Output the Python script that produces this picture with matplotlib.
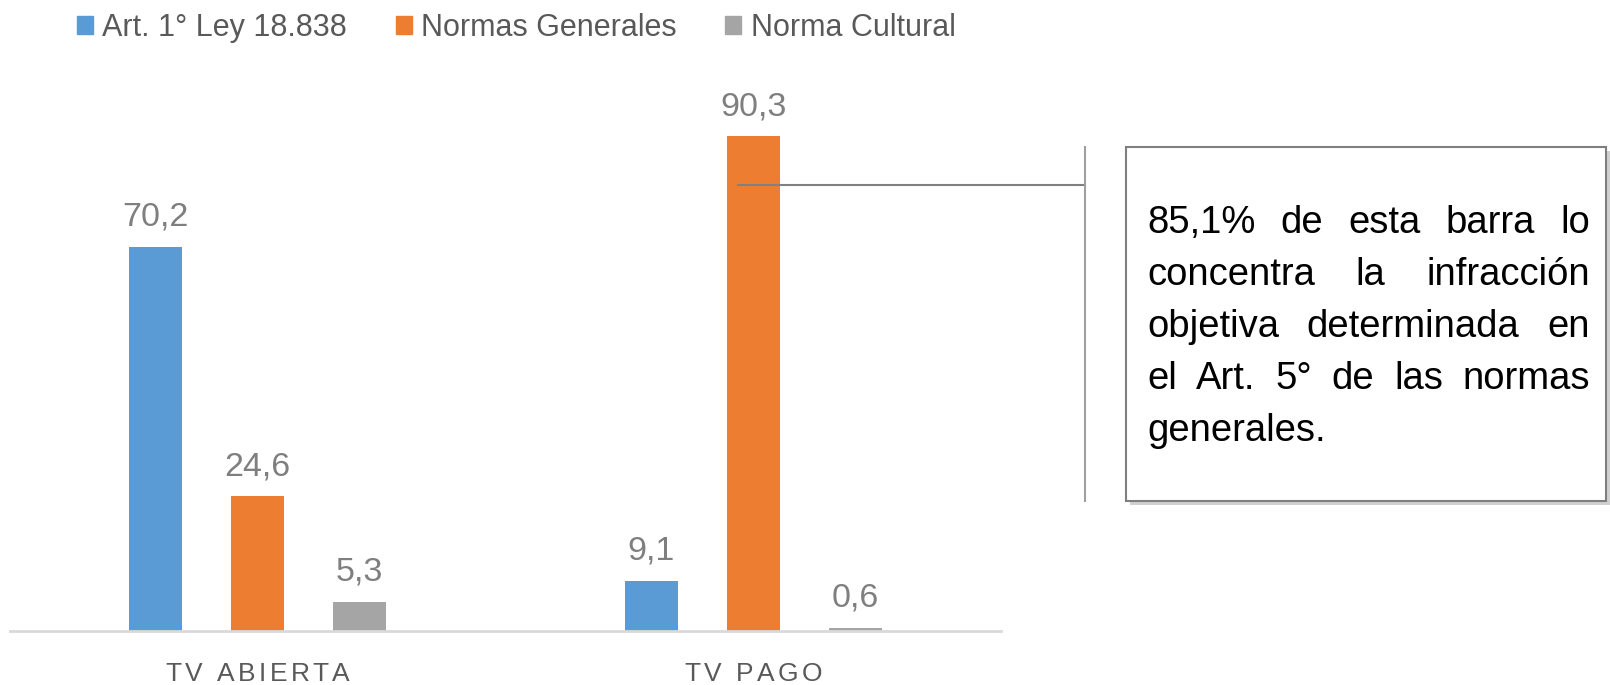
import matplotlib
matplotlib.use('Agg')
import matplotlib.pyplot as plt
from matplotlib.patches import Patch, Rectangle
from matplotlib.lines import Line2D
from matplotlib.transforms import IdentityTransform
import numpy as np

categories = ['TV ABIERTA', 'TV PAGO']
series = ['Art. 1° Ley 18.838', 'Normas Generales', 'Norma Cultural']
art1 = [70.2, 9.1]
normas_generales = [24.6, 90.3]
norma_cultural = [5.3, 0.6]
colors = ['#5B9BD5', '#ED7D31', '#A5A5A5']
note_lines = ['85,1% de esta barra lo',
              'concentra la infracción',
              'objetiva determinada en',
              'el Art. 5° de las normas',
              'generales.']
note_y = 81.5  # height on the TV PAGO orange bar where the callout points

FONT = ['Liberation Sans', 'DejaVu Sans']
W, H = 1610, 685

fig = plt.figure(figsize=(W / 100, H / 100), dpi=100)
ax = fig.add_axes([10 / W, 1 - 631 / H, 991 / W, 547.7 / H])

x = np.arange(len(categories))
width = 0.107
offset = 0.206
values = [art1, normas_generales, norma_cultural]
for i, (name, vals) in enumerate(zip(series, values)):
    pos = x + (i - 1) * offset
    bars = ax.bar(pos, vals, width, color=colors[i], label=name)
    for b, v in zip(bars, vals):
        ax.text(b.get_x() + b.get_width() / 2, v + 2.6,
                ('%.1f' % v).replace('.', ','), ha='center', va='bottom',
                fontsize=24.5, color='#7F7F7F', family=FONT)

ax.set_xlim(-0.5, 1.5)
ax.set_ylim(0, 100)
ax.set_yticks([])
ax.set_xticks([])
for s in ['top', 'right', 'left']:
    ax.spines[s].set_visible(False)
ax.spines['bottom'].set_color('#D9D9D9')
ax.spines['bottom'].set_linewidth(2)

fig.canvas.draw()
renderer = fig.canvas.get_renderer()


def text_w(s, **kw):
    t = fig.text(0, 0, s, transform=IdentityTransform(), **kw)
    w = t.get_window_extent(renderer).width
    t.remove()
    return w


def spaced(cx, y, s, gap, **kw):
    # letter-spaced text, centred on cx (pixels)
    ws = [text_w(c, **kw) for c in s]
    total = sum(ws) + gap * (len(s) - 1)
    xx = cx - total / 2
    for c, w in zip(s, ws):
        fig.text(xx, y, c, transform=IdentityTransform(), va='baseline', **kw)
        xx += w + gap


# category labels
for xi, cat in zip(x, categories):
    cx = ax.transData.transform((xi, 0))[0]
    spaced(cx, H - 681, cat, 3.4, fontsize=19, color='#595959', family=FONT)

# legend
handles = [Patch(color=c) for c in colors]
fig.legend(handles, series, loc='upper left', bbox_to_anchor=(65 / W, 1 - 1 / H),
           ncol=3, frameon=False, prop={'family': FONT, 'size': 22},
           labelcolor='#595959', handlelength=0.52, handleheight=0.52,
           handletextpad=0.3, columnspacing=1.6, borderaxespad=0)

# callout box with shadow
bx0, bx1, by0, by1 = 1126, 1606, H - 501, H - 147
fig.patches.append(Rectangle((bx0 + 4, by0 - 4), bx1 - bx0, by1 - by0,
                             transform=IdentityTransform(), facecolor='#D0D0D0',
                             edgecolor='none', zorder=1))
fig.patches.append(Rectangle((bx0, by0), bx1 - bx0, by1 - by0,
                             transform=IdentityTransform(), facecolor='white',
                             edgecolor='#7F7F7F', linewidth=1.5, zorder=2))

# justified note text
tkw = dict(fontsize=27.5, color='black', family=FONT, zorder=3)
left, right = 1147, 1590
space_w = text_w('a b', **tkw) - text_w('ab', **tkw)
base = H - 233
for li, line in enumerate(note_lines):
    ln = line.split()
    y = base - li * 52
    ws = [text_w(t, **tkw) for t in ln]
    if li < len(note_lines) - 1 and len(ln) > 1:
        gap = (right - left - sum(ws)) / (len(ln) - 1)
    else:
        gap = space_w
    xx = left
    for t, w in zip(ln, ws):
        fig.text(xx, y, t, transform=IdentityTransform(), va='baseline', **tkw)
        xx += w + gap

# callout leader lines
px, py = ax.transData.transform((1 - 0.03, note_y))
vx = 1085
fig.lines.append(Line2D([px, vx], [py, py], transform=IdentityTransform(),
                        color='#808080', linewidth=1.5))
fig.lines.append(Line2D([vx, vx], [H - 147, H - 501], transform=IdentityTransform(),
                        color='#A0A0A0', linewidth=1.5))

fig.savefig('out.png', dpi=100)
